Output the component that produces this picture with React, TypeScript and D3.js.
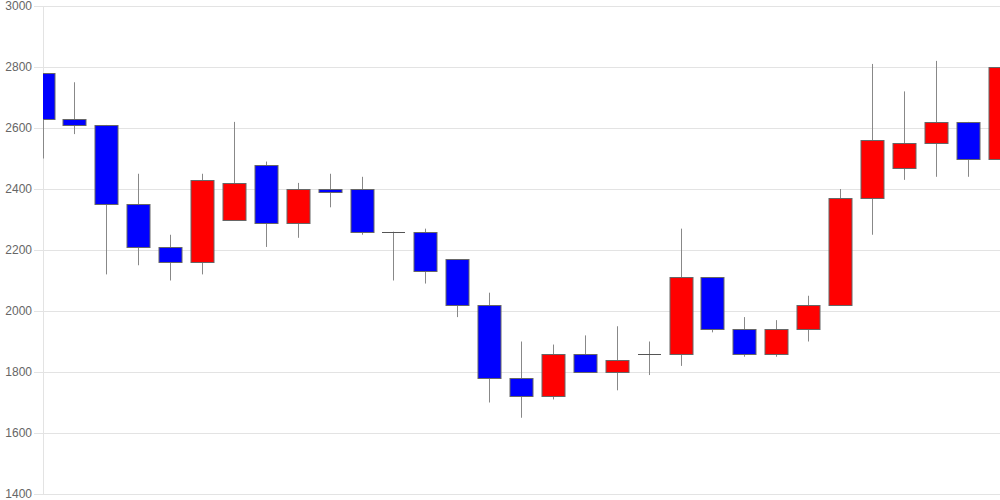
import React from "react";
import * as d3 from "d3";

const opens = [2780, 2630, 2610, 2350, 2210, 2160, 2300, 2480, 2290, 2400, 2400, 2260, 2260, 2170, 2020, 1780, 1720, 1860, 1800, 1860, 1860, 2110, 1940, 1860, 1940, 2020, 2370, 2470, 2550, 2620, 2500];
const closes = [2630, 2610, 2350, 2210, 2160, 2430, 2420, 2290, 2400, 2390, 2260, 2260, 2130, 2020, 1780, 1720, 1860, 1800, 1840, 1860, 2110, 1940, 1860, 1940, 2020, 2370, 2560, 2550, 2620, 2500, 2800];
const highs = [2780, 2750, 2610, 2450, 2250, 2450, 2620, 2490, 2420, 2450, 2440, 2260, 2270, 2170, 2060, 1900, 1890, 1920, 1950, 1900, 2270, 2110, 1980, 1970, 2050, 2400, 2810, 2720, 2820, 2620, 2890];
const lows = [2500, 2580, 2120, 2150, 2100, 2120, 2300, 2210, 2240, 2340, 2250, 2100, 2090, 1980, 1700, 1650, 1710, 1800, 1740, 1790, 1820, 1930, 1850, 1850, 1900, 2020, 2250, 2430, 2440, 2440, 2500];
const yTicks = [1400, 1600, 1800, 2000, 2200, 2400, 2600, 2800, 3000];

export default function App() {
  const W = 1000, H = 500;
  const left = 43, right = 1000, top = 6, bottom = 494;
  const x = d3.scalePoint<number>().domain(d3.range(opens.length)).range([left - 0.5, right - 0.5]);
  const y = d3.scaleLinear().domain([1400, 3000]).range([bottom, top]);
  const bw = 23;
  return (
    <svg width={W} height={H} style={{ position: "absolute", left: 0, top: 0, fontFamily: "'Liberation Sans', Arial, sans-serif" }}>
      <defs>
        <clipPath id="plot">
          <rect x={left} y={0} width={right - left} height={H} />
        </clipPath>
      </defs>
      {yTicks.map((t) => (
        <g key={t}>
          <line x1={34} x2={right} y1={Math.round(y(t)) + 0.5} y2={Math.round(y(t)) + 0.5} stroke="#e3e3e3" />
          <text x={32} y={y(t)} dy="0.35em" textAnchor="end" fontSize={12} fill="#666">{t}</text>
        </g>
      ))}
      <line x1={left + 0.5} x2={left + 0.5} y1={top} y2={bottom} stroke="#e3e3e3" />
      <g clipPath="url(#plot)">
        {opens.map((o, i) => {
          const c = closes[i];
          const cx = Math.round(x(i)!) + 0.5;
          const up = c > o;
          const down = c < o;
          const fill = up ? "#ff0000" : down ? "#0000ff" : "#555";
          const yt = Math.round(y(Math.max(o, c))) + 0.5;
          const yb = Math.round(y(Math.min(o, c))) + 0.5;
          return (
            <g key={i}>
              <line x1={cx} x2={cx} y1={y(highs[i])} y2={y(lows[i])} stroke="#888" strokeWidth={1} />
              {o === c ? (
                <line x1={cx - bw / 2} x2={cx + bw / 2} y1={yt} y2={yt} stroke="#555" strokeWidth={1} />
              ) : (
                <rect x={cx - bw / 2} y={yt} width={bw} height={Math.max(yb - yt, 1)} fill={fill} stroke="#666" strokeWidth={1} />
              )}
            </g>
          );
        })}
      </g>
    </svg>
  );
}
